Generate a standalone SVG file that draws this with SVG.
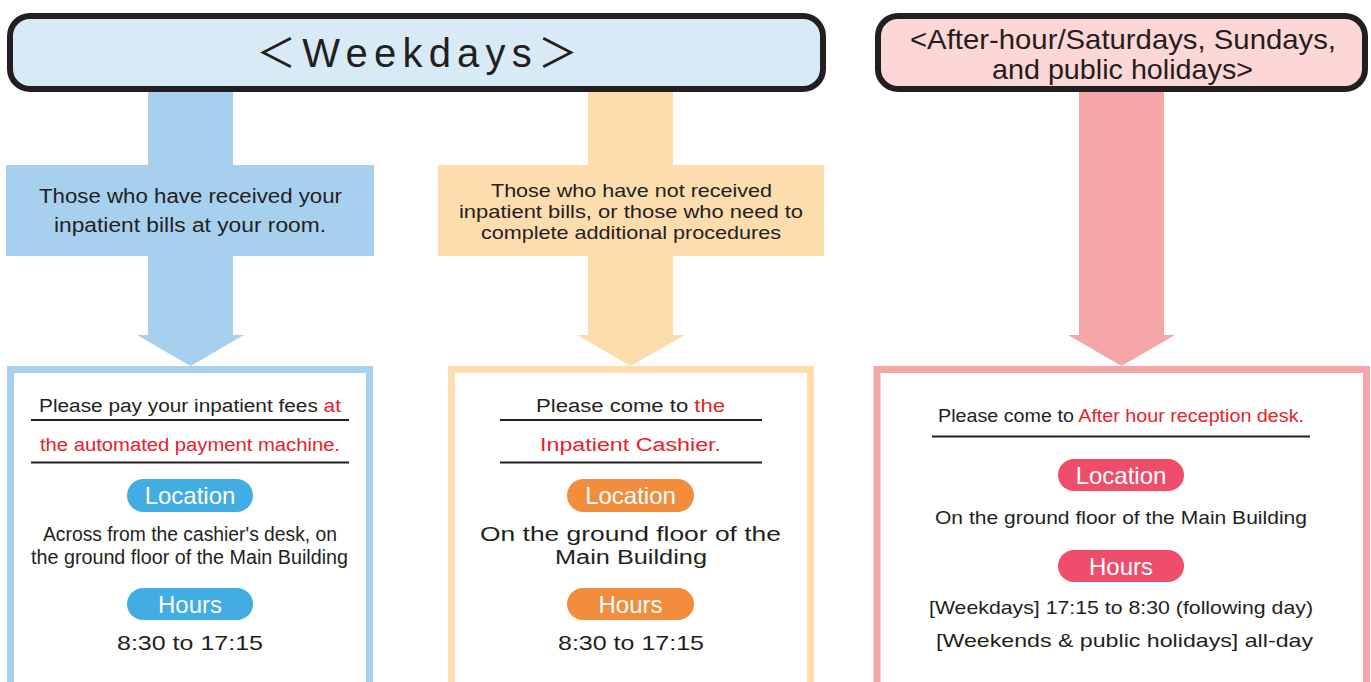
<svg xmlns="http://www.w3.org/2000/svg" width="1371" height="682" viewBox="0 0 1371 682">
  <style>
    text { font-family: "Liberation Sans", Arial, "Noto Sans CJK JP", sans-serif; fill: #231f20; }
    .title { stroke: #231f20; stroke-width: 6; }
    .red { fill: #e8212b; }
    .rule { stroke: #231f20; stroke-width: 2; }
    .pilltxt { fill: #ffffff; font-size: 24px; text-anchor: middle; }
    .blue { fill: #a6d0ee; }
    .orange { fill: #fddcae; }
    .pink { fill: #f5a6a8; }
    .box { fill: #ffffff; stroke-width: 7; }
  </style>

  <!-- connectors: wide arrows from the headers down to the panels -->
  <g id="connectors">
    <polygon class="blue" points="148,90 233,90 233,335 244,335 190.5,366 137,335 148,335"/>
    <polygon class="orange" points="588,90 673,90 673,335 685,335 630.5,366 577,335 588,335"/>
    <polygon class="pink" points="1079,90 1164,90 1164,335 1175,335 1121.5,366 1068,335 1079,335"/>
  </g>

  <!-- weekday header -->
  <g id="weekdays-header">
    <rect class="title" x="10" y="16" width="813" height="73" rx="20" fill="#d9eaf7"/>
    <text x="256" y="67" font-size="40" textLength="322" lengthAdjust="spacing">＜Weekdays＞</text>
  </g>

  <!-- after-hours header -->
  <g id="afterhours-header">
    <rect class="title" x="878" y="16" width="487" height="73" rx="20" fill="#fdd6d6"/>
    <text x="910" y="49" font-size="28" textLength="426" lengthAdjust="spacingAndGlyphs">&lt;After-hour/Saturdays, Sundays,</text>
    <text x="992" y="79" font-size="28" textLength="261" lengthAdjust="spacingAndGlyphs">and public holidays&gt;</text>
  </g>

  <!-- condition banners -->
  <g id="received-banner">
    <rect class="blue" x="6" y="165" width="368" height="91"/>
    <text x="39" y="203" font-size="20" textLength="303" lengthAdjust="spacingAndGlyphs">Those who have received your</text>
    <text x="54" y="232" font-size="20" textLength="272" lengthAdjust="spacingAndGlyphs">inpatient bills at your room.</text>
  </g>

  <g id="not-received-banner">
    <rect class="orange" x="438" y="165" width="386" height="91"/>
    <text x="491" y="197" font-size="18.5" textLength="281" lengthAdjust="spacingAndGlyphs">Those who have not received</text>
    <text x="459" y="218" font-size="18.5" textLength="344" lengthAdjust="spacingAndGlyphs">inpatient bills, or those who need to</text>
    <text x="481" y="239" font-size="18.5" textLength="300" lengthAdjust="spacingAndGlyphs">complete additional procedures</text>
  </g>

  <!-- payment machine panel -->
  <g id="machine-panel">
    <rect class="box" x="10.5" y="369.5" width="359" height="340" stroke="#a6d0ee"/>
    <text x="39" y="412" font-size="18" textLength="302" lengthAdjust="spacingAndGlyphs">Please pay your inpatient fees <tspan class="red">at</tspan></text>
    <line class="rule" x1="31" y1="420" x2="349" y2="420"/>
    <text class="red" x="40" y="451" font-size="18" textLength="300" lengthAdjust="spacingAndGlyphs">the automated payment machine.</text>
    <line class="rule" x1="31" y1="462.5" x2="349" y2="462.5"/>
    <rect x="127" y="479" width="126" height="33" rx="16.5" fill="#41ade2"/>
    <text class="pilltxt" x="190" y="504">Location</text>
    <text x="43" y="541" font-size="20" textLength="294" lengthAdjust="spacingAndGlyphs">Across from the cashier's desk, on</text>
    <text x="31" y="564" font-size="20" textLength="317" lengthAdjust="spacingAndGlyphs">the ground floor of the Main Building</text>
    <rect x="127" y="588" width="126" height="32" rx="16" fill="#41ade2"/>
    <text class="pilltxt" x="190" y="613">Hours</text>
    <text x="117" y="650" font-size="21" textLength="146" lengthAdjust="spacingAndGlyphs">8:30 to 17:15</text>
  </g>

  <!-- inpatient cashier panel -->
  <g id="cashier-panel">
    <rect class="box" x="451.5" y="369.5" width="359" height="340" stroke="#fddcae"/>
    <text x="536" y="412" font-size="18" textLength="189" lengthAdjust="spacingAndGlyphs">Please come to <tspan class="red">the</tspan></text>
    <line class="rule" x1="500" y1="420" x2="762" y2="420"/>
    <text class="red" x="540" y="451" font-size="18" textLength="181" lengthAdjust="spacingAndGlyphs">Inpatient Cashier.</text>
    <line class="rule" x1="500" y1="462.5" x2="762" y2="462.5"/>
    <rect x="567" y="479" width="127" height="33" rx="16.5" fill="#f18d3d"/>
    <text class="pilltxt" x="630.5" y="504">Location</text>
    <text x="480" y="541" font-size="20" textLength="301" lengthAdjust="spacingAndGlyphs">On the ground  floor of the</text>
    <text x="555" y="564" font-size="20" textLength="152" lengthAdjust="spacingAndGlyphs">Main Building</text>
    <rect x="567" y="588" width="127" height="32" rx="16" fill="#f18d3d"/>
    <text class="pilltxt" x="630.5" y="613">Hours</text>
    <text x="558" y="650" font-size="21" textLength="146" lengthAdjust="spacingAndGlyphs">8:30 to 17:15</text>
  </g>

  <!-- after-hours reception panel -->
  <g id="reception-panel">
    <rect class="box" x="877" y="369.5" width="489.5" height="340" stroke="#f5a6a8" stroke-width="7.5"/>
    <text x="938" y="422" font-size="18" textLength="366" lengthAdjust="spacingAndGlyphs">Please come to <tspan class="red">After hour reception desk.</tspan></text>
    <line class="rule" x1="932" y1="436.5" x2="1310" y2="436.5"/>
    <rect x="1058" y="459" width="126" height="32" rx="16" fill="#ef4d6c"/>
    <text class="pilltxt" x="1121" y="484">Location</text>
    <text x="935" y="524" font-size="19" textLength="372" lengthAdjust="spacingAndGlyphs">On the ground floor of the Main Building</text>
    <rect x="1058" y="550" width="126" height="32" rx="16" fill="#ef4d6c"/>
    <text class="pilltxt" x="1121" y="575">Hours</text>
    <text x="929" y="614" font-size="19" textLength="384" lengthAdjust="spacingAndGlyphs">[Weekdays] 17:15 to 8:30 (following day)</text>
    <text x="936" y="647" font-size="19" textLength="377" lengthAdjust="spacingAndGlyphs">[Weekends &amp; public holidays] all-day</text>
  </g>
</svg>
